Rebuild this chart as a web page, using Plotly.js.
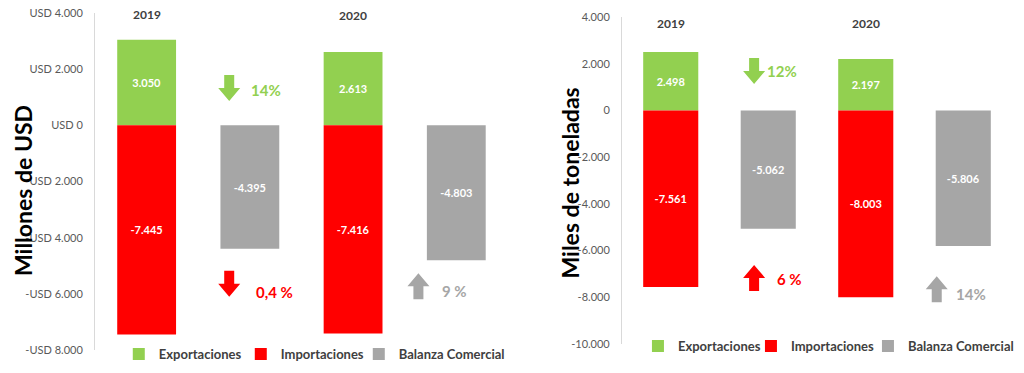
<!DOCTYPE html>
<html>
<head>
<meta charset="utf-8">
<script src="https://cdn.plot.ly/plotly-3.0.1.min.js"></script>
<style>html,body{margin:0;padding:0;background:#fff;overflow:hidden;}#chart{width:1024px;height:373px;}</style>
</head>
<body>
<div id="chart"></div>
<script>
// ---- data ----
const categories = ['2019', 'Balanza 2019', '2020', 'Balanza 2020'];
const years = ['2019', '2020'];
const balanceCats = ['Balanza 2019', 'Balanza 2020'];

const usdExports = [3050, 2613];
const usdImports = [-7445, -7416];
const usdBalance = [-4395, -4803];

const tonExports = [2498, 2197];
const tonImports = [-7561, -8003];
const tonBalance = [-5062, -5806];

const usdTickVals = [4000, 2000, 0, -2000, -4000, -6000, -8000];
const usdTickText = ['USD 4.000', 'USD 2.000', 'USD 0', '-USD 2.000', '-USD 4.000', '-USD 6.000', '-USD 8.000'];
const tonTickVals = [4000, 2000, 0, -2000, -4000, -6000, -8000, -10000];
const tonTickText = ['4.000', '2.000', '0', '-2.000', '-4.000', '-6.000', '-8.000', '-10.000'];

const seriesNames = ['Exportaciones', 'Importaciones', 'Balanza Comercial'];
const colors = ['#92D050', '#FF0000', '#A6A6A6'];

const usdChanges = ['14%', '0,4 %', '9 %'];
const tonChanges = ['12%', '6 %', '14%'];

const FONT = 'Lato, "Open Sans", sans-serif';

function barTrace(name, x, y, color, xa, ya, legend, lw) {
  return {
    type: 'bar', name: name, x: x, y: y, xaxis: xa, yaxis: ya,
    marker: {color: color}, width: xa === 'x' ? 0.57 : 0.565,
    texttemplate: '%{y:,.0f}', textposition: 'inside', insidetextanchor: 'middle',
    constraintext: 'none',
    textfont: {color: '#ffffff', size: 11, family: FONT, weight: 'bold'},
    legend: legend, showlegend: true, legendwidth: lw, hoverinfo: 'skip'
  };
}

const data = [
  barTrace(seriesNames[0], years, usdExports, colors[0], 'x', 'y', 'legend', 77),
  barTrace(seriesNames[1], years, usdImports, colors[1], 'x', 'y', 'legend', 73),
  barTrace(seriesNames[2], balanceCats, usdBalance, colors[2], 'x', 'y', 'legend', 110),
  barTrace(seriesNames[0], years, tonExports, colors[0], 'x2', 'y2', 'legend2', 68),
  barTrace(seriesNames[1], years, tonImports, colors[1], 'x2', 'y2', 'legend2', 72),
  barTrace(seriesNames[2], balanceCats, tonBalance, colors[2], 'x2', 'y2', 'legend2', 110)
];

const xaxisBase = {
  type: 'category', categoryorder: 'array', categoryarray: categories,
  range: [-0.5, 3.5], showticklabels: false, ticks: '', showline: false,
  showgrid: false, zeroline: false, fixedrange: true
};
const yaxisBase = {
  showgrid: false, zeroline: false, showline: true, linecolor: '#D9D9D9', linewidth: 1,
  ticks: 'outside', ticklen: 9, tickcolor: 'rgba(0,0,0,0)',
  tickfont: {size: 11, color: '#595959', family: FONT}, fixedrange: true
};

function arrowPath(dir) {
  const s = dir;
  return 'M-5,' + (-13*s) + ' L5,' + (-13*s) + ' L5,0 L11,0 L0,' + (13*s) + ' L-11,0 L-5,0 Z';
}
function arrow(xa, ya, x, y, dir, color) {
  return {
    type: 'path', xref: xa, yref: ya, xsizemode: 'pixel', ysizemode: 'pixel',
    xanchor: x, yanchor: y, path: arrowPath(dir),
    fillcolor: color, line: {width: 0}, layer: 'above'
  };
}
function pct(xa, ya, x, y, text, color) {
  return {
    xref: xa, yref: ya, x: x, y: y, text: text, showarrow: false,
    xanchor: 'left', yanchor: 'middle',
    font: {size: 15, color: color, family: FONT, weight: 'bold'}
  };
}
function yearLabel(xa, ya, x, y, text) {
  return {
    xref: xa, yref: ya, x: x, y: y, text: text, showarrow: false,
    xanchor: 'center', yanchor: 'middle',
    font: {size: 12, color: '#404040', family: FONT, weight: 'bold'}
  };
}

const legendBase = {
  orientation: 'h', yanchor: 'middle', xanchor: 'left',
  font: {size: 13, color: '#404040', family: FONT, weight: 'bold'},
  bgcolor: 'rgba(0,0,0,0)', itemclick: false, itemdoubleclick: false, traceorder: 'normal',
  entrywidthmode: 'pixels'
};

const layout = {
  width: 1024, height: 373,
  margin: {l: 0, r: 0, t: 0, b: 0, autoexpand: false},
  paper_bgcolor: '#ffffff', plot_bgcolor: '#ffffff',
  separators: ',.',
  barmode: 'relative',
  font: {family: FONT},
  xaxis: Object.assign({}, xaxisBase, {domain: [0.0928, 0.496], anchor: 'y'}),
  yaxis: Object.assign({}, yaxisBase, {domain: [0.0617, 0.9651], range: [-8000, 4000],
    tickvals: usdTickVals, ticktext: usdTickText, anchor: 'x'}),
  xaxis2: Object.assign({}, xaxisBase, {domain: [0.6074, 0.9883], anchor: 'y2'}),
  yaxis2: Object.assign({}, yaxisBase, {domain: [0.0777, 0.9544], range: [-10000, 4000],
    tickvals: tonTickVals, ticktext: tonTickText, anchor: 'x2'}),
  legend: Object.assign({}, legendBase, {x: 0.116, y: 0.051}),
  legend2: Object.assign({}, legendBase, {x: 0.623, y: 0.072}),
  shapes: [
    arrow('x', 'y', 0.80, 1330, -1, colors[0]),
    arrow('x', 'y', 0.80, -5640, -1, colors[1]),
    arrow('x', 'y', 2.633, -5730, 1, colors[2]),
    arrow('x2', 'y2', 0.855, 1690, -1, colors[0]),
    arrow('x2', 'y2', 0.855, -7170, 1, colors[1]),
    arrow('x2', 'y2', 2.728, -7660, 1, colors[2])
  ],
  annotations: [
    yearLabel('x', 'y', 0, 3930, years[0]),
    yearLabel('x', 'y', 2, 3900, years[1]),
    yearLabel('x2', 'y2', 0, 3724, years[0]),
    yearLabel('x2', 'y2', 2, 3724, years[1]),
    pct('x', 'y', 0.99, 1246, usdChanges[0], colors[0]),
    pct('x', 'y', 1.04, -5947, usdChanges[1], colors[1]),
    pct('x', 'y', 2.845, -5912, usdChanges[2], colors[2]),
    pct('x2', 'y2', 0.967, 1670, tonChanges[0], colors[0]),
    pct('x2', 'y2', 1.07, -7235, tonChanges[1], colors[1]),
    pct('x2', 'y2', 2.91, -7877, tonChanges[2], colors[2]),
    {xref: 'paper', yref: 'paper', x: 0.0225, y: 0.488, text: 'Millones de USD', textangle: -90,
     showarrow: false, xanchor: 'center', yanchor: 'middle',
     font: {size: 23, color: '#000000', family: FONT, weight: 'bold'}},
    {xref: 'paper', yref: 'paper', x: 0.557, y: 0.509, text: 'Miles de toneladas', textangle: -90,
     showarrow: false, xanchor: 'center', yanchor: 'middle',
     font: {size: 23, color: '#000000', family: FONT, weight: 'bold'}}
  ]
};

Plotly.newPlot('chart', data, layout, {staticPlot: true, displayModeBar: false});
</script>
</body>
</html>
